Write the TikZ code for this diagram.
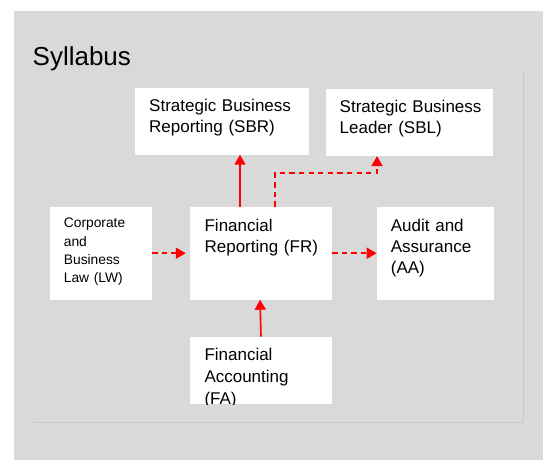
\documentclass[tikz,border=0pt]{standalone}
\usepackage{fontspec}
\setmainfont{Liberation Sans}
\usetikzlibrary{calc,arrows.meta}
\definecolor{bggray}{HTML}{D9D9D9}
\definecolor{panelline}{HTML}{C8C8C8}
\definecolor{arrred}{HTML}{FF0000}
\tikzset{
  boxnode/.style={fill=white, draw=none, inner sep=0pt, anchor=north west},
  boxtext/.style={inner sep=0pt, anchor=base west, align=left, text width=#1,
    font=\fontsize{17}{21}\selectfont},
  smalltext/.style={inner sep=0pt, anchor=base west, align=left, text width=#1,
    font=\fontsize{13.8}{18.4}\selectfont},
  solidarrow/.style={color=arrred, line width=1.6pt, -{Triangle[width=11pt,length=10pt]}},
  dasharrow/.style={color=arrred, line width=1.8pt, dash pattern=on 5.3pt off 4.3pt,
    -{Triangle[width=11pt,length=10pt]}},
}
\begin{document}
\begin{tikzpicture}[x=1pt,y=-1pt]
\useasboundingbox (0,0) rectangle (545,460);
% background
\fill[bggray] (14.3,11) rectangle (543,460);
% inner panel edges
\draw[panelline, line width=0.9pt] (33,422.7) -- (523.5,422.7) -- (523.5,71.7);
% title
\node[inner sep=0pt, anchor=base west, font=\fontsize{26}{30}\selectfont] (title) at (32.5,65.7) {Syllabus};
% boxes
\node[boxnode, minimum width=174.5pt, minimum height=67pt] (sbr) at (134.7,87.3) {};
\node[boxnode, minimum width=167.1pt, minimum height=67.4pt] (sbl) at (325.6,88.3) {};
\node[boxnode, minimum width=101.7pt, minimum height=92.6pt] (lw) at (50.1,206.7) {};
\node[boxnode, minimum width=142pt, minimum height=92.6pt] (fr) at (189.8,206.7) {};
\node[boxnode, minimum width=117.4pt, minimum height=92.6pt] (aa) at (376.7,206.7) {};
\node[boxnode, minimum width=142pt, minimum height=67.3pt] (fa) at (189.8,336.7) {};
% texts
\node[boxtext=160pt] (sbrt) at ($(sbr.north west)+(14.3,23.7)$) {Strategic Business\\Reporting (SBR)};
\node[boxtext=155pt] (sblt) at ($(sbl.north west)+(13.9,24)$) {Strategic Business\\Leader (SBL)};
\node[smalltext=88pt] (lwt) at ($(lw.north west)+(13.6,21)$) {Corporate\\and\\Business\\Law (LW)};
\node[boxtext=127pt] (frt) at ($(fr.north west)+(14.6,25)$) {Financial\\Reporting (FR)};
\node[boxtext=105pt] (aat) at ($(aa.north west)+(14,24.3)$) {Audit and\\Assurance\\(AA)};
\begin{scope}
\clip (fa.north west) rectangle (fa.south east);
\node[boxtext=127pt, font=\fontsize{17}{22}\selectfont] (fat) at ($(fa.north west)+(14.5,24)$) {Financial\\Accounting\\(FA)};
\end{scope}
% connectors
\coordinate (frtop1) at ($(fr.north west)+(50.2,0)$);
\coordinate (frtop2) at ($(fr.north west)+(85.2,0)$);
\coordinate (sblin) at ($(sbl.south west)+(51.4,0)$);
\coordinate (frbot) at ($(fr.south west)+(70.2,0)$);
\coordinate (fatop) at ($(fa.north west)+(71.2,0)$);
\coordinate (lwend) at ($(fr.west)+(-4,0)$);
\draw[solidarrow] (frtop1) -- (frtop1 |- sbr.south);
\draw[dasharrow] (frtop2) -- ($(frtop2)+(0,-33.7)$) -| (sblin);
\draw[dasharrow] (lw.east) -- (lwend);
\draw[dasharrow] (fr.east) -- (aa.west);
\draw[solidarrow] (fatop) -- (frbot);
\end{tikzpicture}
\end{document}
